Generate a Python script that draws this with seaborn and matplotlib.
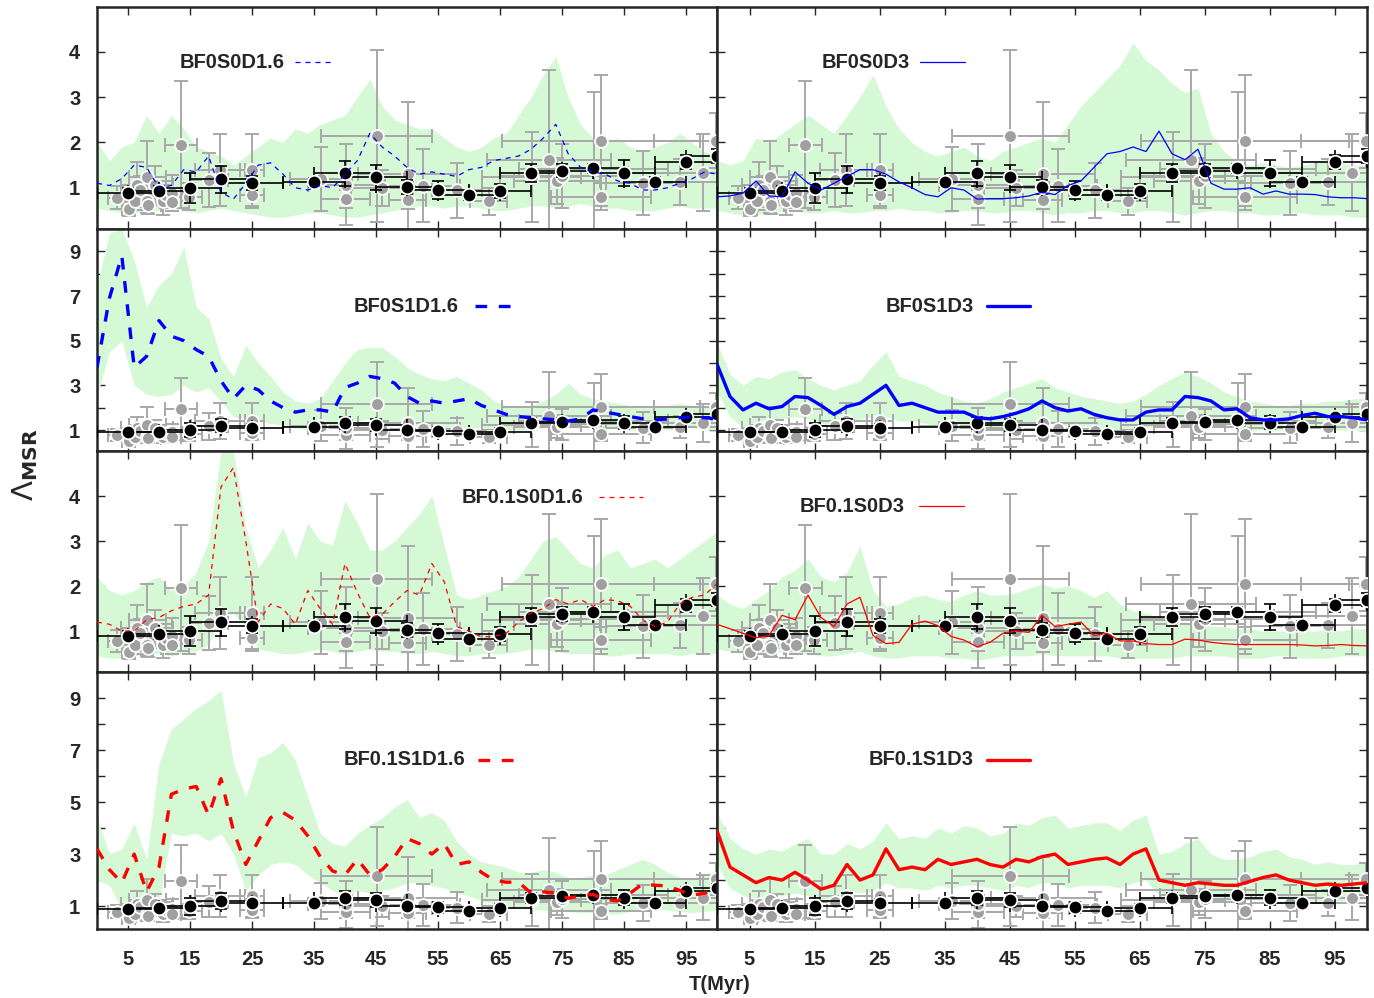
import numpy as np
import matplotlib
matplotlib.use("Agg")
import matplotlib.pyplot as plt
import seaborn as sns

sns.set_style("ticks")
plt.rcParams['font.family'] = ['Liberation Sans', 'DejaVu Sans']

# time grid of the simulation curves (Myr)
t = np.arange(0, 101, 2)

# ---- simulation curves + min/max bands, one set per model ----
bf0s0d16_line = [1.1, 1.05, 1.2, 1.5, 1.45, 1.0, 1.05, 1.4, 1.35, 1.7, 0.9, 0.75, 1.1, 1.5, 1.55, 1.3, 1.0, 0.95, 1.05, 1.0,
                 1.3, 1.6, 2.2, 1.9, 1.7, 1.45, 1.3, 1.35, 1.3, 1.25, 1.4, 1.45, 1.6, 1.65, 1.7, 1.85, 2.1, 2.4, 1.75, 1.45,
                 1.35, 1.3, 1.15, 1.1, 0.95, 0.95, 1.0, 1.1, 1.2, 1.35, 1.3]
bf0s0d16_lo = [0.55, 0.5, 0.45, 0.45, 0.5, 0.5, 0.55, 0.5, 0.45, 0.5, 0.55, 0.5, 0.45, 0.4, 0.35, 0.35, 0.4, 0.45, 0.45, 0.4,
               0.35, 0.35, 0.4, 0.45, 0.5, 0.55, 0.6, 0.6, 0.55, 0.6, 0.6, 0.55, 0.5, 0.5, 0.55, 0.6, 0.6, 0.55, 0.6, 0.65,
               0.6, 0.55, 0.55, 0.5, 0.5, 0.5, 0.55, 0.6, 0.55, 0.55, 0.55]
bf0s0d16_hi = [2.0, 1.6, 1.9, 2.0, 2.6, 2.2, 2.6, 2.3, 1.9, 1.8, 1.7, 1.5, 1.7, 1.9, 2.1, 2.0, 2.3, 2.2, 2.4, 2.5,
               2.6, 3.0, 3.4, 2.8, 2.5, 2.4, 2.3, 2.3, 2.1, 1.9, 1.8, 1.9, 2.1, 2.2, 2.6, 3.0, 3.5, 3.9, 3.0, 2.4,
               2.1, 2.0, 2.1, 1.9, 1.8, 1.9, 2.0, 2.2, 2.0, 1.8, 1.7]

bf0s0d3_line = [0.8, 0.82, 0.88, 1.15, 0.82, 0.8, 1.35, 1.1, 0.95, 1.1, 1.25, 1.4, 1.4, 1.3, 1.13, 1.0, 0.85, 0.8, 1.0, 0.95,
                0.75, 0.76, 0.76, 0.78, 0.82, 0.9, 0.85, 1.05, 1.15, 1.45, 1.75, 1.8, 1.9, 1.8, 2.25, 1.75, 1.62, 1.85, 1.1, 0.97,
                0.97, 1.0, 0.86, 0.93, 0.86, 0.86, 0.85, 0.8, 0.78, 0.78, 0.76]
bf0s0d3_lo = [0.5, 0.45, 0.4, 0.4, 0.45, 0.5, 0.5, 0.45, 0.45, 0.5, 0.45, 0.45, 0.5, 0.5, 0.55, 0.5, 0.5, 0.45, 0.45, 0.5,
              0.5, 0.45, 0.45, 0.5, 0.5, 0.45, 0.4, 0.45, 0.45, 0.5, 0.5, 0.45, 0.45, 0.5, 0.5, 0.45, 0.4, 0.45, 0.5, 0.5,
              0.45, 0.45, 0.4, 0.4, 0.45, 0.45, 0.4, 0.4, 0.4, 0.35, 0.35]
bf0s0d3_hi = [1.6, 1.5, 1.6, 2.1, 2.0, 2.2, 2.4, 2.6, 2.4, 2.2, 2.6, 3.0, 3.5, 2.8, 2.3, 2.0, 1.8, 1.7, 1.8, 1.9,
              1.7, 1.6, 1.8, 1.9, 2.0, 2.1, 2.0, 2.4, 2.8, 3.1, 3.4, 3.7, 4.2, 3.8, 3.6, 3.3, 3.1, 3.2, 2.2, 1.8,
              1.6, 1.5, 1.55, 1.5, 1.45, 1.5, 1.55, 1.6, 1.55, 1.5, 1.5]

bf0s1d16_line = [3.8, 6.9, 8.8, 3.8, 4.3, 5.9, 5.2, 5.0, 4.6, 4.3, 3.2, 2.4, 3.0, 2.8, 2.3, 2.0, 1.8, 1.9, 1.9, 1.8,
                 2.9, 3.1, 3.4, 3.3, 3.1, 2.5, 2.2, 2.3, 2.2, 2.3, 2.4, 2.1, 1.9, 1.7, 1.6, 1.55, 1.5, 1.45, 1.4, 1.5,
                 1.9, 1.8, 1.7, 1.6, 1.5, 1.45, 1.5, 1.55, 1.6, 1.55, 1.5]
bf0s1d16_lo = [2.5, 4.5, 5.0, 3.0, 2.6, 2.5, 2.6, 3.0, 2.7, 2.9, 2.3, 1.6, 1.5, 1.4, 1.3, 1.2, 1.1, 1.0, 1.1, 1.2,
               1.3, 1.4, 1.5, 1.4, 1.3, 1.2, 1.1, 1.1, 1.0, 1.0, 1.1, 1.1, 1.0, 1.0, 1.0, 1.0, 1.1, 1.1, 1.1, 1.2,
               1.1, 1.1, 1.1, 1.0, 1.0, 1.0, 1.0, 1.1, 1.1, 1.0, 1.0]
bf0s1d16_hi = [7.5, 9.8, 10.0, 8.6, 6.5, 7.5, 8.0, 9.2, 6.5, 6.0, 4.2, 3.4, 4.8, 4.0, 3.4, 2.7, 2.3, 2.2, 2.4, 3.2,
               4.0, 4.6, 4.7, 4.7, 4.3, 3.8, 3.5, 3.3, 3.2, 3.4, 3.1, 2.8, 2.3, 2.1, 2.0, 2.1, 2.3, 2.6, 3.1, 2.6,
               2.4, 2.3, 2.2, 2.1, 2.0, 2.0, 2.1, 2.2, 2.1, 2.0, 2.0]

bf0s1d3_line = [3.95, 2.5, 1.9, 2.2, 1.95, 2.05, 2.5, 2.45, 2.1, 1.7, 2.05, 2.2, 2.6, 3.0, 2.1, 2.2, 2.0, 1.8, 1.8, 1.8,
                1.55, 1.5, 1.6, 1.75, 1.95, 2.3, 2.0, 1.85, 1.95, 1.7, 1.55, 1.45, 1.45, 1.8, 1.9, 1.9, 2.5, 2.45, 2.3, 1.9,
                1.95, 1.55, 1.45, 1.45, 1.5, 1.65, 1.75, 1.6, 1.6, 1.55, 1.45]
bf0s1d3_lo = [2.7, 1.6, 1.1, 1.3, 1.4, 1.5, 1.6, 1.5, 1.3, 1.2, 1.4, 1.5, 1.6, 1.6, 1.4, 1.4, 1.3, 1.2, 1.2, 1.1,
              1.1, 1.0, 1.1, 1.2, 1.3, 1.4, 1.3, 1.2, 1.2, 1.1, 1.0, 1.0, 1.0, 1.1, 1.2, 1.3, 1.4, 1.4, 1.3, 1.2,
              1.1, 1.0, 1.0, 1.0, 1.0, 1.1, 1.1, 1.0, 1.0, 1.0, 0.95]
bf0s1d3_hi = [4.9, 3.5, 3.0, 3.4, 3.3, 3.6, 3.7, 3.3, 3.0, 2.8, 3.0, 3.2, 3.9, 4.5, 3.4, 3.2, 3.0, 2.7, 2.5, 2.3,
              2.2, 2.4, 2.7, 2.9, 3.1, 3.3, 2.9, 2.7, 2.5, 2.4, 2.3, 2.2, 2.3, 2.6, 3.0, 3.3, 3.6, 3.4, 3.1, 2.7,
              2.5, 2.3, 2.2, 2.1, 2.1, 2.2, 2.2, 2.3, 2.3, 2.4, 2.4]

bf01s0d16_line = [1.2, 1.15, 1.0, 1.0, 1.25, 1.3, 1.45, 1.55, 1.6, 1.8, 4.2, 4.63, 3.0, 1.2, 1.6, 1.5, 1.15, 1.9, 1.5, 1.15,
                  2.5, 1.85, 1.3, 1.37, 1.65, 1.9, 1.8, 2.5, 2.1, 1.1, 1.0, 0.87, 0.88, 0.95, 1.2, 1.4, 1.5, 1.7, 1.6, 1.7,
                  1.55, 1.7, 1.67, 1.55, 1.25, 1.1, 1.2, 1.6, 1.75, 1.8, 2.05]
bf01s0d16_lo = [0.45, 0.4, 0.4, 0.45, 0.5, 0.5, 0.45, 0.5, 0.55, 0.7, 1.3, 1.4, 1.1, 0.6, 0.55, 0.5, 0.5, 0.55, 0.6, 0.55,
                0.5, 0.55, 0.6, 0.55, 0.55, 0.5, 0.5, 0.55, 0.5, 0.45, 0.45, 0.5, 0.5, 0.5, 0.55, 0.6, 0.6, 0.55, 0.5, 0.5,
                0.5, 0.45, 0.45, 0.5, 0.5, 0.5, 0.5, 0.45, 0.5, 0.5, 0.5]
bf01s0d16_hi = [2.2, 1.9, 1.8, 1.9, 2.1, 2.2, 1.9, 2.0, 2.3, 3.0, 5.0, 5.0, 3.3, 2.4, 2.8, 3.3, 2.6, 3.4, 3.0, 2.9,
                3.9, 3.4, 2.8, 2.8, 3.0, 3.3, 3.6, 4.0, 2.9, 1.8, 1.7, 1.8, 1.9, 2.0, 2.2, 2.6, 3.0, 3.1, 2.8, 2.5,
                2.4, 2.7, 2.8, 2.4, 2.5, 2.6, 2.4, 2.6, 2.8, 3.0, 3.2]

bf01s0d3_line = [1.15, 1.05, 0.95, 0.85, 0.9, 1.35, 1.25, 1.8, 1.3, 1.1, 1.6, 1.75, 0.9, 0.72, 0.75, 1.15, 1.22, 1.12, 0.88, 0.8,
                 0.65, 0.75, 0.95, 1.0, 0.97, 1.35, 1.1, 1.15, 1.2, 0.9, 0.95, 0.78, 0.78, 0.72, 0.7, 0.7, 0.82, 0.8, 0.75, 0.72,
                 0.7, 0.7, 0.7, 0.7, 0.7, 0.69, 0.67, 0.68, 0.7, 0.68, 0.67]
bf01s0d3_lo = [0.6, 0.55, 0.5, 0.5, 0.5, 0.55, 0.5, 0.5, 0.45, 0.45, 0.5, 0.55, 0.45, 0.4, 0.4, 0.45, 0.45, 0.45, 0.4, 0.4,
               0.35, 0.4, 0.45, 0.45, 0.45, 0.5, 0.45, 0.45, 0.45, 0.45, 0.45, 0.4, 0.4, 0.4, 0.4, 0.4, 0.45, 0.45, 0.45, 0.45,
               0.4, 0.4, 0.4, 0.45, 0.45, 0.4, 0.4, 0.4, 0.45, 0.45, 0.45]
bf01s0d3_hi = [1.8, 1.6, 1.5, 1.7, 1.9, 2.2, 2.35, 2.6, 2.2, 2.1, 2.3, 2.9, 1.9, 1.55, 1.6, 1.75, 1.8, 1.7, 1.65, 1.8,
               1.9, 1.8, 1.8, 1.85, 1.95, 2.05, 1.95, 2.0, 1.9, 1.75, 1.9, 1.6, 1.45, 1.4, 1.3, 1.25, 1.2, 1.15, 1.1, 1.1,
               1.05, 1.05, 1.0, 1.0, 1.0, 1.0, 1.0, 1.05, 1.0, 1.05, 1.05]

bf01s1d16_line = [3.2, 2.4, 1.9, 3.0, 1.55, 2.5, 5.3, 5.5, 5.6, 4.5, 5.9, 3.9, 2.6, 3.5, 4.4, 4.6, 4.3, 3.7, 2.9, 2.35,
                  2.2, 2.8, 2.2, 2.4, 2.9, 3.6, 3.4, 3.0, 3.4, 2.6, 2.7, 2.3, 2.0, 1.92, 1.92, 1.5, 1.55, 1.5, 1.3, 1.4,
                  1.45, 1.25, 1.2, 1.5, 1.85, 1.8, 1.78, 1.6, 1.42, 1.5, 1.6]
bf01s1d16_lo = [2.0, 1.8, 0.9, 1.0, 1.0, 1.2, 3.8, 3.7, 3.8, 3.5, 3.8, 3.0, 1.6, 2.2, 2.6, 2.7, 2.6, 2.2, 1.9, 1.6,
                1.4, 1.6, 1.5, 1.6, 1.7, 1.9, 1.9, 1.8, 1.7, 1.5, 1.4, 1.2, 1.1, 1.0, 0.9, 0.9, 0.85, 0.8, 0.8, 0.75,
                0.75, 0.7, 0.7, 0.8, 0.9, 0.9, 0.85, 0.8, 0.75, 0.8, 0.85]
bf01s1d16_hi = [4.4, 3.0, 3.2, 4.2, 2.8, 6.5, 7.8, 8.2, 8.6, 8.9, 9.3, 6.5, 5.2, 6.7, 6.9, 7.3, 6.6, 5.2, 3.8, 3.4,
                3.3, 3.8, 4.1, 4.4, 4.8, 5.1, 4.4, 4.6, 4.3, 3.5, 3.0, 2.7, 2.6, 2.5, 2.3, 2.3, 2.4, 2.3, 2.1, 2.1,
                2.2, 2.2, 2.4, 2.6, 2.8, 2.6, 2.3, 2.1, 2.1, 2.2, 2.3]

bf01s1d3_line = [3.9, 2.5, 2.2, 1.9, 2.1, 2.0, 2.3, 2.0, 1.65, 1.8, 2.6, 2.0, 2.2, 3.2, 2.4, 2.5, 2.4, 2.8, 2.6, 2.7,
                 2.8, 2.6, 2.5, 2.8, 2.7, 2.9, 3.0, 2.6, 2.7, 2.8, 2.85, 2.6, 3.0, 3.2, 2.0, 1.9, 1.8, 1.9, 1.85, 1.8,
                 1.8, 1.95, 2.1, 2.2, 2.0, 1.9, 1.8, 1.85, 1.8, 1.85, 1.9]
bf01s1d3_lo = [2.6, 1.7, 1.4, 1.3, 1.4, 1.4, 1.5, 1.4, 1.2, 1.3, 1.6, 1.5, 1.6, 1.9, 1.7, 1.7, 1.6, 1.8, 1.7, 1.8,
               1.8, 1.7, 1.6, 1.8, 1.7, 1.9, 1.9, 1.7, 1.8, 1.8, 1.8, 1.7, 1.9, 2.0, 1.4, 1.3, 1.2, 1.3, 1.3, 1.2,
               1.2, 1.3, 1.4, 1.4, 1.3, 1.3, 1.2, 1.2, 1.2, 1.2, 1.3]
bf01s1d3_hi = [4.6, 3.6, 3.2, 3.0, 3.2, 3.1, 3.4, 3.6, 3.0, 3.0, 3.4, 3.2, 3.5, 4.2, 3.6, 3.7, 3.6, 4.0, 3.8, 4.1,
               4.0, 3.7, 3.8, 4.2, 4.1, 4.4, 4.5, 4.0, 4.1, 4.2, 4.2, 3.9, 4.3, 4.5, 3.0, 3.1, 3.4, 3.6, 3.0, 2.8,
               2.8, 2.9, 3.1, 3.2, 2.9, 2.8, 2.6, 2.7, 2.6, 2.6, 2.7]

# ---- observed clusters (grey) ----
obs_t = [3.3, 5.1, 6.2, 6.4, 7.0, 8.1, 8.1, 8.3, 9.3, 10.6, 11.2, 12.1, 12.1, 13.6, 14.9, 18.1, 19.8, 25.0, 25.0, 36.1,
         40.1, 40.1, 45.1, 46.0, 50.1, 50.1, 52.5, 58.1, 63.2, 70.1, 72.9, 74.2, 75.0, 80.1, 81.3, 81.3, 88.1, 94.0, 97.7, 99.8]
obs_l = [0.78, 0.53, 0.70, 1.07, 0.96, 1.24, 0.70, 0.63, 1.07, 0.70, 0.85, 0.89, 0.69, 1.95, 0.80, 1.17, 1.39, 1.39, 0.85, 1.19,
         0.76, 1.07, 2.15, 1.00, 1.30, 0.74, 1.05, 0.94, 0.70, 1.24, 1.61, 1.15, 1.26, 1.42, 2.04, 0.80, 1.11, 1.13, 1.33, 2.04]
obs_terr = [1.5, 1.0, 2.0, 2.5, 1.5, 3.0, 1.0, 2.0, 3.0, 2.0, 2.5, 3.0, 1.5, 2.6, 2.0, 3.0, 4.0, 2.0, 2.0, 5.0,
            4.0, 6.0, 9.0, 5.0, 8.0, 3.0, 6.0, 4.0, 3.0, 8.0, 10.0, 7.0, 10.0, 12.0, 16.0, 8.0, 6.0, 6.0, 12.0, 10.0]
obs_lerr = [0.25, 0.15, 0.2, 0.5, 0.3, 0.8, 0.2, 0.2, 0.4, 0.3, 0.3, 0.4, 0.2, 1.4, 0.3, 0.6, 0.8, 0.8, 0.3, 0.7,
            0.2, 0.9, 1.9, 0.4, 1.6, 0.2, 0.8, 0.6, 0.3, 1.0, 2.0, 0.5, 0.7, 1.7, 1.45, 0.3, 0.7, 0.5, 0.85, 0.6]

# ---- binned averages (black) ----
bin_t = [5, 10, 15, 20, 25, 35, 40, 45, 50, 55, 60, 65, 70, 75, 80, 85, 90, 95, 100]
bin_l = [0.89, 0.93, 1.00, 1.19, 1.11, 1.12, 1.32, 1.23, 1.02, 0.95, 0.83, 0.93, 1.32, 1.38, 1.43, 1.32, 1.13, 1.57, 1.70]
bin_lerr = [0.1, 0.1, 0.33, 0.3, 0.15, 0.1, 0.28, 0.28, 0.15, 0.2, 0.1, 0.15, 0.2, 0.15, 0.1, 0.29, 0.1, 0.15, 0.15]
bin_terr = [5] * len(bin_t)

models = [
    ("BF0S0D1.6", bf0s0d16_line, bf0s0d16_lo, bf0s0d16_hi, "blue", 0.9, (0, (4, 4))),
    ("BF0S0D3", bf0s0d3_line, bf0s0d3_lo, bf0s0d3_hi, "blue", 0.9, "-"),
    ("BF0S1D1.6", bf0s1d16_line, bf0s1d16_lo, bf0s1d16_hi, "blue", 2.4, (0, (3.5, 3.5))),
    ("BF0S1D3", bf0s1d3_line, bf0s1d3_lo, bf0s1d3_hi, "blue", 2.4, "-"),
    ("BF0.1S0D1.6", bf01s0d16_line, bf01s0d16_lo, bf01s0d16_hi, "red", 0.9, (0, (4, 4))),
    ("BF0.1S0D3", bf01s0d3_line, bf01s0d3_lo, bf01s0d3_hi, "red", 0.9, "-"),
    ("BF0.1S1D1.6", bf01s1d16_line, bf01s1d16_lo, bf01s1d16_hi, "red", 2.4, (0, (3.5, 3.5))),
    ("BF0.1S1D3", bf01s1d3_line, bf01s1d3_lo, bf01s1d3_hi, "red", 2.4, "-"),
]
# label position (axes fraction): right edge of text, height, line sample start/end
label_pos = [(0.303, 0.752, 0.32, 0.38), (0.297, 0.752, 0.313, 0.382),
             (0.584, 0.653, 0.61, 0.68), (0.395, 0.653, 0.415, 0.482),
             (0.784, 0.79, 0.81, 0.88), (0.288, 0.75, 0.31, 0.38),
             (0.594, 0.658, 0.615, 0.68), (0.395, 0.658, 0.415, 0.482)]
row_ylim = [(0.09, 4.99), (0.06, 10.0), (0.09, 5.0), (0.12, 10.0)]

fig = plt.figure(figsize=(13.74, 9.98), dpi=100)
gs = fig.add_gridspec(4, 2, width_ratios=[620, 650], height_ratios=[222, 222, 221, 257],
                      left=97/1374, right=1367/1374, top=1-7/998, bottom=1-929/998,
                      hspace=0, wspace=0)

for i, (name, line, lo, hi, col, lw, ls) in enumerate(models):
    r, c = divmod(i, 2)
    ax = fig.add_subplot(gs[r, c])

    ax.fill_between(t, lo, hi, color='#d4f9d4', lw=0, zorder=1)

    ax.errorbar(obs_t, obs_l, xerr=obs_terr, yerr=obs_lerr, fmt='none', ecolor='#a8a8a8',
                elinewidth=1.4, capsize=5, capthick=1.4, zorder=2)
    sns.scatterplot(x=obs_t, y=obs_l, ax=ax, s=85, color='#a0a0a0', edgecolor='white',
                    linewidth=1.3, zorder=3)
    ax.errorbar(bin_t, bin_l, xerr=bin_terr, yerr=bin_lerr, fmt='none', ecolor='black',
                elinewidth=1.2, capsize=4, capthick=1.2, zorder=4)
    sns.scatterplot(x=bin_t, y=bin_l, ax=ax, s=95, color='black', edgecolor='white',
                    linewidth=1.3, zorder=5)

    sns.lineplot(x=t, y=line, ax=ax, color=col, lw=lw, linestyle=ls, zorder=6)

    xr, yf, l0, l1 = label_pos[i]
    ax.text(xr, yf, name, transform=ax.transAxes, ha='right', va='center',
            fontsize=14.5, fontweight='bold', zorder=7)
    ax.plot([l0, l1], [yf, yf], transform=ax.transAxes, color=col, lw=lw, linestyle=ls, zorder=7)

    ax.set_xlim(0, 100)
    ax.set_ylim(*row_ylim[r])
    ax.set_xticks(range(5, 100, 10))
    if r in (0, 2):
        ax.set_yticks([1, 2, 3, 4])
        ylabels = ['1', '2', '3', '4']
    else:
        ax.set_yticks(range(1, 10))
        ylabels = [str(v) if v % 2 else '' for v in range(1, 10)]
    if c == 0:
        ax.set_yticklabels(ylabels)
    else:
        ax.set_yticklabels([])
    if r < 3:
        ax.set_xticklabels([])
    ax.tick_params(direction='in', top=True, right=True, length=6, width=1,
                   labelsize=14.5)
    ax.tick_params(axis='x', pad=15)
    ax.tick_params(axis='y', pad=12)
    for lab in ax.get_xticklabels() + ax.get_yticklabels():
        lab.set_fontweight('bold')
    for sp in ax.spines.values():
        sp.set_linewidth(1.8)
    ax.set_xlabel('')
    ax.set_ylabel('')

fig.text(720/1374, 1-985/998, 'T(Myr)', ha='center', va='center', fontsize=14.5, fontweight='bold')
fig.text(25/1374, 1-465/998, r'$\Lambda_{\mathbf{MSR}}$', ha='center', va='center',
         rotation=90, fontsize=21)

fig.savefig('out.png', dpi=100)
